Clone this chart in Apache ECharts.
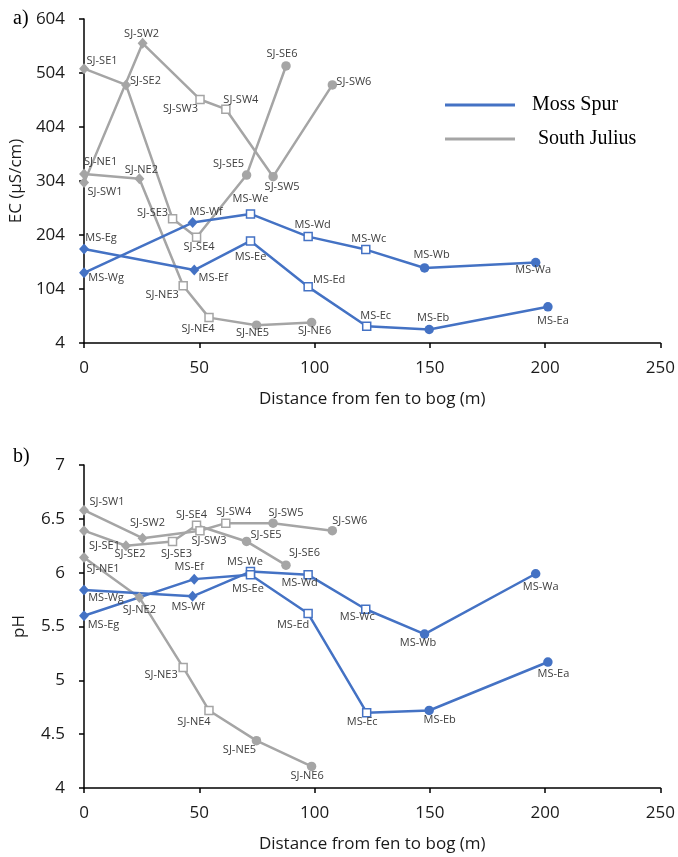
<!DOCTYPE html>
<html>
<head>
<meta charset="utf-8">
<script src="https://cdn.jsdelivr.net/npm/echarts@6/dist/echarts.min.js"></script>
<style>
  html, body { margin: 0; padding: 0; background: #fff; }
  #chart { width: 678px; height: 857px; }
</style>
</head>
<body>
<div id="chart"></div>
<script>
// ---------- DATA ----------
// Site names
const sitesSE = ['SJ-SE1', 'SJ-SE2', 'SJ-SE3', 'SJ-SE4', 'SJ-SE5', 'SJ-SE6'];
const sitesSW = ['SJ-SW1', 'SJ-SW2', 'SJ-SW3', 'SJ-SW4', 'SJ-SW5', 'SJ-SW6'];
const sitesNE = ['SJ-NE1', 'SJ-NE2', 'SJ-NE3', 'SJ-NE4', 'SJ-NE5', 'SJ-NE6'];
const sitesMSW = ['MS-Wg', 'MS-Wf', 'MS-We', 'MS-Wd', 'MS-Wc', 'MS-Wb', 'MS-Wa'];
const sitesMSE = ['MS-Eg', 'MS-Ef', 'MS-Ee', 'MS-Ed', 'MS-Ec', 'MS-Eb', 'MS-Ea'];

// Distance from fen to bog (m)
const distSE = [0, 18.2, 38.4, 48.8, 70.5, 87.6];
const distSW = [0, 25.4, 50.3, 61.5, 82, 107.7];
const distNE = [0, 24, 43, 54.2, 74.8, 98.7];
const distMSW = [0, 47.1, 72.2, 97.2, 122.2, 147.7, 195.9];
const distMSE = [0, 47.8, 72.2, 97.2, 122.6, 149.7, 201.2];

// a) EC (µS/cm)
const ecSE = [512, 482, 234, 200, 315, 517];
const ecSW = [301, 559, 455, 437, 312, 482];
const ecNE = [317, 308, 110, 51, 37, 42];
const ecMSW = [134, 227, 243, 201, 177, 143, 153];
const ecMSE = [178, 139, 193, 108, 35, 29, 71];

// b) pH
const phSE = [6.39, 6.25, 6.29, 6.44, 6.29, 6.07];
const phSW = [6.58, 6.32, 6.39, 6.46, 6.46, 6.39];
const phNE = [6.14, 5.77, 5.12, 4.72, 4.44, 4.20];
const phMSW = [5.84, 5.78, 6.01, 5.98, 5.66, 5.43, 5.99];
const phMSE = [5.60, 5.94, 5.98, 5.62, 4.70, 4.72, 5.17];

// Axis ticks
const ecTicks = [4, 104, 204, 304, 404, 504, 604];
const phTicks = [4, 4.5, 5, 5.5, 6, 6.5, 7];
const distTicks = [0, 50, 100, 150, 200, 250];

const legendNames = ['Moss Spur', 'South Julius'];

// ---------- STYLE ----------
const BLUE = '#4472C4';
const GRAY = '#A5A5A5';
const LABEL_COLOR = '#404040';
const AXIS_COLOR = '#000';
const TEXT_COLOR = '#1a1a1a';
const FONT = '"Open Sans", "Noto Sans", sans-serif';

// marker types by point position
const shapesSJ = ['d', 'd', 's', 's', 'c', 'c'];
const shapesMS = ['d', 'd', 's', 's', 's', 'c', 'c'];

// label offsets (px) relative to marker centre
const offEC = {
  'SJ-SE1': [18, -8], 'SJ-SE2': [19.5, -4], 'SJ-SE3': [-20, -6], 'SJ-SE4': [2.5, 9.5], 'SJ-SE5': [-18, -11], 'SJ-SE6': [-4, -12],
  'SJ-SW1': [21, 9], 'SJ-SW2': [-1, -9], 'SJ-SW3': [-19.5, 9], 'SJ-SW4': [15, -9], 'SJ-SW5': [9, 10], 'SJ-SW6': [21.5, -3],
  'SJ-NE1': [16.5, -12], 'SJ-NE2': [2, -8.5], 'SJ-NE3': [-21, 9], 'SJ-NE4': [-11, 11], 'SJ-NE5': [-4, 8], 'SJ-NE6': [3, 8],
  'MS-Wg': [22, 5], 'MS-Wf': [13.5, -11], 'MS-We': [0, -15], 'MS-Wd': [4.5, -12], 'MS-Wc': [3, -11], 'MS-Wb': [7, -13], 'MS-Wa': [-2.5, 7],
  'MS-Eg': [17, -11], 'MS-Ef': [19, 8], 'MS-Ee': [0, 16], 'MS-Ed': [21, -7], 'MS-Ec': [9, -10], 'MS-Eb': [4, -12], 'MS-Ea': [5, 14]
};
const offPH = {
  'SJ-SW1': [23, -8], 'SJ-SE1': [20.5, 15], 'SJ-NE1': [19, 11.5], 'MS-Wg': [22, 7.5], 'MS-Eg': [19.5, 9.5],
  'SJ-SW2': [5, -15], 'SJ-SE2': [4, 8.5], 'SJ-SE3': [4, 12.5], 'SJ-SE4': [-5, -10], 'SJ-SW3': [9, 10.5], 'SJ-NE2': [0, 12],
  'MS-Ef': [-5, -12], 'MS-Wf': [-4.5, 10.5],
  'SJ-SW4': [8, -11], 'SJ-SW5': [13, -10.5], 'SJ-SW6': [17.5, -9.5], 'SJ-SE5': [19.5, -6.5], 'SJ-SE6': [18.5, -12.5],
  'MS-We': [-5.5, -10], 'MS-Ee': [-2.5, 14], 'MS-Wd': [-8.5, 8.5], 'MS-Ed': [-15, 11.5], 'MS-Wc': [-8.5, 7.5],
  'MS-Wb': [-6.5, 8.5], 'MS-Wa': [5, 13], 'MS-Ec': [-4.5, 9], 'MS-Eb': [10.5, 9.5], 'MS-Ea': [5.5, 11.7],
  'SJ-NE3': [-22, 7], 'SJ-NE4': [-15, 11], 'SJ-NE5': [-17, 9.5], 'SJ-NE6': [-4.5, 9]
};

function markerStyle(kind, color) {
  if (kind === 'd') return { symbol: 'diamond', symbolSize: [10, 11], itemStyle: { color: color, borderWidth: 0 } };
  if (kind === 's') return { symbol: 'rect', symbolSize: 8, itemStyle: { color: '#fff', borderColor: color, borderWidth: 1.5 } };
  return { symbol: 'circle', symbolSize: 9.5, itemStyle: { color: color, borderWidth: 0 } };
}

function makeSeries(legendName, sites, xs, ys, color, shapes, offsets, axisIdx) {
  const data = sites.map(function (s, i) {
    const m = markerStyle(shapes[i], color);
    return {
      name: s,
      value: [xs[i], ys[i]],
      symbol: m.symbol,
      symbolSize: m.symbolSize,
      itemStyle: m.itemStyle,
      label: { offset: offsets[s] || [0, 0] }
    };
  });
  return {
    type: 'line',
    name: legendName,
    xAxisIndex: axisIdx,
    yAxisIndex: axisIdx,
    data: data,
    color: color,
    lineStyle: { color: color, width: 2.5 },
    showAllSymbol: true,
    silent: true,
    label: {
      show: true,
      position: 'inside',
      formatter: '{b}',
      color: LABEL_COLOR,
      fontFamily: FONT,
      fontSize: 11,
      align: 'center',
      verticalAlign: 'middle'
    }
  };
}

function xAxisDef(gridIndex) {
  return {
    type: 'value', gridIndex: gridIndex, min: 0, max: 250, interval: 50,
    name: 'Distance from fen to bog (m)', nameLocation: 'middle', nameGap: 48,
    nameTextStyle: { color: TEXT_COLOR, fontFamily: FONT, fontSize: 17 },
    axisLine: { show: true, onZero: false, lineStyle: { color: AXIS_COLOR, width: 1.5 } },
    axisTick: { show: true, inside: false, length: 5, lineStyle: { color: AXIS_COLOR, width: 1.5 }, customValues: distTicks },
    axisLabel: { color: TEXT_COLOR, fontFamily: FONT, fontSize: 17, margin: 17, customValues: distTicks },
    splitLine: { show: false }
  };
}

function yAxisDef(gridIndex, name, min, max, ticks) {
  return {
    type: 'value', gridIndex: gridIndex, min: min, max: max,
    name: name, nameLocation: 'middle', nameGap: 56, nameRotate: 90,
    nameTextStyle: { color: TEXT_COLOR, fontFamily: FONT, fontSize: 17 },
    axisLine: { show: true, onZero: false, lineStyle: { color: AXIS_COLOR, width: 1.5 } },
    axisTick: { show: true, inside: false, length: 5, lineStyle: { color: AXIS_COLOR, width: 1.5 }, customValues: ticks },
    axisLabel: { color: TEXT_COLOR, fontFamily: FONT, fontSize: 17, margin: 19, customValues: ticks },
    splitLine: { show: false }
  };
}

const series = [
  makeSeries(legendNames[1], sitesSE, distSE, ecSE, GRAY, shapesSJ, offEC, 0),
  makeSeries(legendNames[1], sitesSW, distSW, ecSW, GRAY, shapesSJ, offEC, 0),
  makeSeries(legendNames[1], sitesNE, distNE, ecNE, GRAY, shapesSJ, offEC, 0),
  makeSeries(legendNames[0], sitesMSW, distMSW, ecMSW, BLUE, shapesMS, offEC, 0),
  makeSeries(legendNames[0], sitesMSE, distMSE, ecMSE, BLUE, shapesMS, offEC, 0),
  makeSeries(legendNames[1], sitesSE, distSE, phSE, GRAY, shapesSJ, offPH, 1),
  makeSeries(legendNames[1], sitesSW, distSW, phSW, GRAY, shapesSJ, offPH, 1),
  makeSeries(legendNames[1], sitesNE, distNE, phNE, GRAY, shapesSJ, offPH, 1),
  makeSeries(legendNames[0], sitesMSW, distMSW, phMSW, BLUE, shapesMS, offPH, 1),
  makeSeries(legendNames[0], sitesMSE, distMSE, phMSE, BLUE, shapesMS, offPH, 1)
];

const chart = echarts.init(document.getElementById('chart'), null, { renderer: 'canvas' });
chart.setOption({
  animation: false,
  backgroundColor: '#fff',
  grid: [
    { left: 84, top: 19, width: 577, height: 324, containLabel: false },
    { left: 84, top: 465, width: 577, height: 323, containLabel: false }
  ],
  xAxis: [xAxisDef(0), xAxisDef(1)],
  yAxis: [
    yAxisDef(0, 'EC (µS/cm)', 4, 604, ecTicks),
    yAxisDef(1, 'pH', 4, 7, phTicks)
  ],
  legend: {
    orient: 'vertical',
    left: 440,
    top: 90,
    itemWidth: 70,
    itemHeight: 3,
    itemGap: 14,
    icon: 'rect',
    selectedMode: false,
    textStyle: { fontFamily: '"Liberation Serif", "Times New Roman", serif', fontSize: 20, color: '#000', lineHeight: 20 },
    data: [
      { name: legendNames[0], textStyle: { padding: [0, 0, 0, 12] } },
      { name: legendNames[1], textStyle: { padding: [0, 0, 0, 18] } }
    ]
  },
  graphic: [
    { type: 'text', left: 13, top: 9, style: { text: 'a)', font: '20px "Liberation Serif", serif', fill: '#000' } },
    { type: 'text', left: 13, top: 447, style: { text: 'b)', font: '20px "Liberation Serif", serif', fill: '#000' } }
  ],
  series: series
});
</script>
</body>
</html>
